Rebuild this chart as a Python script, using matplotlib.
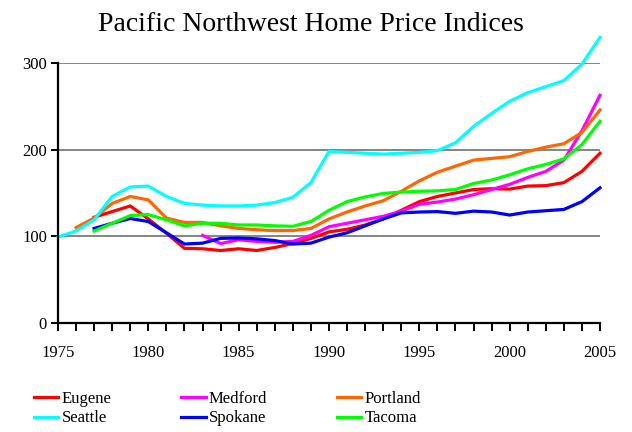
import numpy as np
import matplotlib
matplotlib.use('Agg')
import matplotlib.pyplot as plt

nan = np.nan
years = list(range(1975, 2006))

# index values, 1975..2005
eugene = [nan, nan, 122, 128.5, 135, 120, 103.5, 86, 85.5, 83.5, 85.5, 83.5, 87, 91.5, 97.5, 105,
          108, 113, 120, 130, 140, 146, 150, 154, 155, 154.5, 158, 158.5, 162, 175, 196]
medford = [nan, nan, nan, nan, nan, nan, nan, nan, 101, 91.5, 96, 94, 93, 94, 101, 111,
           115, 119, 123, 129, 137, 139.5, 143, 148, 154, 160, 168, 175, 188, 222, 263]
portland = [nan, 110, 121, 138, 146, 142, 121, 116, 116, 112, 109, 107.5, 106.5, 106.5, 109, 120,
            128, 135, 141, 152, 164, 174, 181, 188, 190, 192, 198, 203, 207, 220, 246]
seattle = [99, 106, 119, 146, 157, 158, 146, 138, 136, 135, 135, 136, 139, 145, 162, 198,
           197, 196, 195, 196, 197, 199, 208, 227, 242, 256, 266, 273, 280, 299, 330]
spokane = [nan, nan, 109, 115, 120.5, 117, 104, 91, 92, 97.5, 98, 97, 95, 91, 92, 99,
           104, 112, 120, 127, 128, 128.5, 126.5, 129, 128, 124.5, 128, 129.5, 131, 140, 156]
tacoma = [nan, nan, 106, 115, 124, 125, 119, 112, 115, 115, 113, 113, 112, 111.5, 117, 130,
          140, 145.5, 149.5, 151, 152, 152.5, 154, 161, 165, 171, 178, 183, 189.5, 206, 233]

series = [('Eugene', eugene, '#ff0000'), ('Medford', medford, '#ff00ff'),
          ('Portland', portland, '#ff6600'), ('Seattle', seattle, '#00ffff'),
          ('Spokane', spokane, '#0000ff'), ('Tacoma', tacoma, '#00ff00')]

plt.rcParams['font.family'] = ['Liberation Serif', 'DejaVu Serif']

fig = plt.figure(figsize=(6.32, 4.32), dpi=100)
ax = fig.add_axes([58/632, 1 - 322.7/432, 542/632, 259.4/432])

lines = {}
for name, vals, col in series:
    ln, = ax.plot(years, vals, color=col, lw=2.3, clip_on=False, solid_joinstyle='miter')
    lines[name] = ln

ax.set_xlim(1975, 2005)
ax.set_ylim(0, 300)
ax.set_xticks(range(1975, 2006))
ax.set_xticklabels([str(y) if y % 5 == 0 else '' for y in years])
ax.set_yticks([0, 100, 200, 300])
for v in [100, 200, 300]:
    ax.axhline(v, color='#707070', lw=1.2, zorder=0)

for s in ['top', 'right']:
    ax.spines[s].set_visible(False)
for s in ['left', 'bottom']:
    ax.spines[s].set_linewidth(1.6)
ax.tick_params(axis='x', direction='out', length=6, width=1.4, pad=10, labelsize=12)
ax.tick_params(axis='y', direction='out', length=5, width=1.4, pad=3, labelsize=12)

fig.text(311/632, 1 - 31/432, 'Pacific Northwest Home Price Indices', fontsize=20,
         ha='center', va='baseline')

order = ['Eugene', 'Seattle', 'Medford', 'Spokane', 'Portland', 'Tacoma']
fig.legend([lines[n] for n in order], order, ncol=3, loc='upper left',
           bbox_to_anchor=(34/632, 1 - 391/432), frameon=False, fontsize=12,
           borderaxespad=0, borderpad=0, handlelength=1.45, handletextpad=0.2,
           columnspacing=4.2, labelspacing=0.2)

fig.savefig('out.png', dpi=100)
